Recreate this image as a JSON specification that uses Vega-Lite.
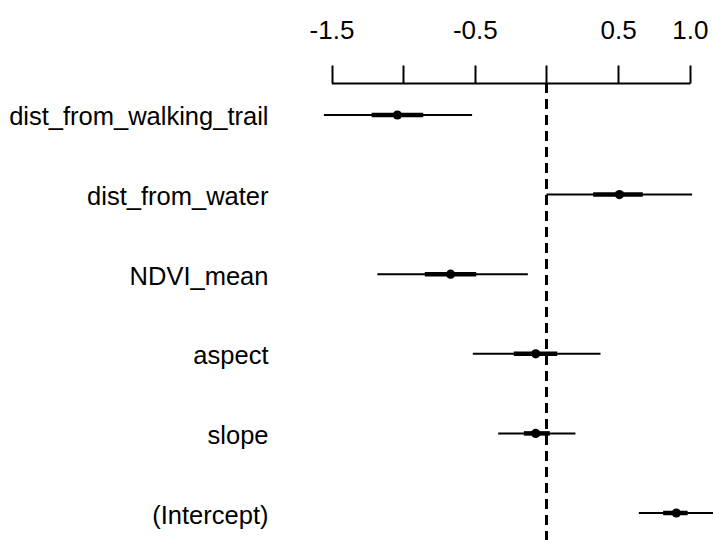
{
  "$schema": "https://vega.github.io/schema/vega-lite/v6.json",
  "autosize": "none",
  "padding": {"left": 300, "top": 83, "right": 0, "bottom": 0},
  "width": 413,
  "height": 462,
  "background": "white",
  "config": {
    "view": {"stroke": null},
    "font": "Liberation Sans"
  },
  "data": {
    "values": [
      {"term": "dist_from_walking_trail", "est": -1.04, "lo1": -1.22, "hi1": -0.86, "lo2": -1.553, "hi2": -0.519},
      {"term": "dist_from_water", "est": 0.509, "lo1": 0.326, "hi1": 0.672, "lo2": 0.0, "hi2": 1.016},
      {"term": "NDVI_mean", "est": -0.669, "lo1": -0.849, "hi1": -0.49, "lo2": -1.18, "hi2": -0.13},
      {"term": "aspect", "est": -0.075, "lo1": -0.228, "hi1": 0.075, "lo2": -0.514, "hi2": 0.377},
      {"term": "slope", "est": -0.075, "lo1": -0.158, "hi1": 0.023, "lo2": -0.337, "hi2": 0.202},
      {"term": "(Intercept)", "est": 0.906, "lo1": 0.814, "hi1": 0.985, "lo2": 0.644, "hi2": 1.168}
    ]
  },
  "encoding": {
    "y": {
      "field": "term",
      "type": "nominal",
      "sort": null,
      "scale": {"type": "point", "padding": 0.402},
      "axis": {
        "orient": "left",
        "title": null,
        "domain": false,
        "ticks": false,
        "tickSize": 0,
        "labelPadding": 32,
        "labelFontSize": 25.5,
        "labelLimit": 0,
        "labelColor": "black",
        "labelBaseline": "alphabetic",
        "labelOffset": 10,
        "labelFont": "Liberation Sans"
      }
    }
  },
  "layer": [
    {
      "mark": {"type": "rule", "strokeDash": [10, 6], "strokeWidth": 2, "color": "black"},
      "encoding": {
        "x": {"datum": 0, "type": "quantitative"},
        "y": null
      }
    },
    {
      "mark": {"type": "rule", "strokeWidth": 2, "color": "black"},
      "encoding": {
        "x": {
          "field": "lo2",
          "type": "quantitative",
          "scale": {"domain": [-1.5, 1.0], "range": [31.5, 389.8], "nice": false, "zero": false, "clamp": false},
          "axis": {
            "orient": "top",
            "title": null,
            "values": [-1.5, -1, -0.5, 0, 0.5, 1],
            "labelExpr": "datum.value == -1.5 ? '-1.5' : datum.value == -0.5 ? '-0.5' : datum.value == 0.5 ? '0.5' : datum.value == 1 ? '1.0' : ''",
            "labelOverlap": false,
            "labelFlush": false,
            "labelBound": false,
            "labelFontSize": 26,
            "labelColor": "black",
            "labelBaseline": "alphabetic",
            "labelPadding": 27,
            "labelFont": "Liberation Sans",
            "tickSize": 18,
            "tickWidth": 2,
            "tickColor": "black",
            "domainWidth": 2,
            "domainColor": "black",
            "grid": false
          }
        },
        "x2": {"field": "hi2"}
      }
    },
    {
      "mark": {"type": "rule", "strokeWidth": 4.5, "color": "black"},
      "encoding": {
        "x": {"field": "lo1", "type": "quantitative"},
        "x2": {"field": "hi1"}
      }
    },
    {
      "mark": {"type": "point", "filled": true, "shape": "circle", "size": 85, "color": "black", "opacity": 1},
      "encoding": {
        "x": {"field": "est", "type": "quantitative"}
      }
    }
  ]
}
